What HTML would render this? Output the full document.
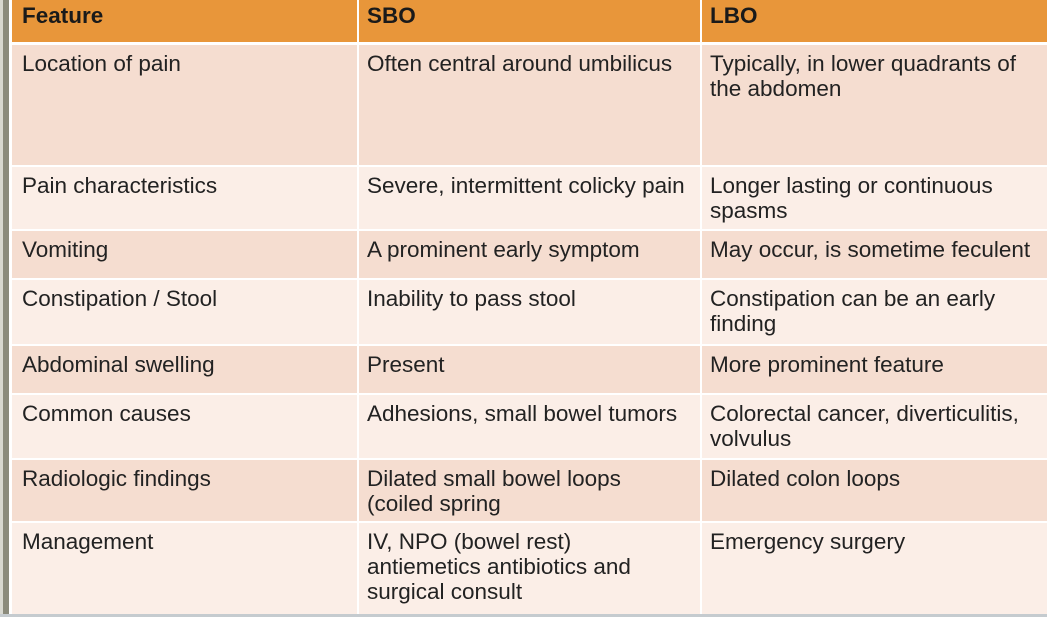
<!DOCTYPE html>
<html><head><style>
body{margin:0;width:1047px;height:617px;background:#fff;position:relative;overflow:hidden;font-family:"Liberation Sans",sans-serif;}
.c{position:absolute;box-sizing:border-box;padding:6px 0 0 10px;font-size:22.5px;line-height:25px;color:#222;white-space:nowrap;overflow:hidden;}
.x{padding-left:8px;}
.h{background:#E8963A;font-weight:bold;color:#1a1a1a;padding-top:3px;}
.d{background:#F5DDD0;}
.l{background:#FBEEE7;}
</style></head><body>
<div style="position:absolute;left:0;top:0;width:3px;height:617px;background:#d8d8d0"></div>
<div style="position:absolute;left:3px;top:0;width:6px;height:617px;background:#8b8b7c"></div>
<div style="position:absolute;left:0;top:614px;width:1047px;height:3px;background:#c5cbcf"></div>
<div id="t"></div>
<script>
var rows=[[0,42,'h',['Feature','SBO','LBO']],
[45,120,'d',['Location of pain','Often central around umbilicus','Typically, in lower quadrants of<br>the abdomen']],
[167,62,'l',['Pain characteristics','Severe, intermittent colicky pain','Longer lasting or continuous<br>spasms']],
[231,47,'d',['Vomiting','A prominent early symptom','May occur, is sometime feculent']],
[280,64,'l',['Constipation / Stool','Inability to pass stool','Constipation can be an early<br>finding']],
[346,47,'d',['Abdominal swelling','Present','More prominent feature']],
[395,63,'l',['Common causes','Adhesions, small bowel tumors','Colorectal cancer, diverticulitis,<br>volvulus']],
[460,61,'d',['Radiologic findings','Dilated small bowel loops<br>(coiled spring','Dilated colon loops']],
[523,91,'l',['Management','IV, NPO (bowel rest)<br>antiemetics antibiotics and<br>surgical consult','Emergency surgery']]];
var cols=[[12,345],[359,341],[702,345]];var h='';
rows.forEach(function(r){for(var i=0;i<3;i++){h+='<div class="c '+r[2]+(i>0?' x':'')+'" style="left:'+cols[i][0]+'px;top:'+r[0]+'px;width:'+cols[i][1]+'px;height:'+r[1]+'px;">'+r[3][i]+'</div>';}});
document.getElementById('t').outerHTML=h;
</script>
</body></html>
